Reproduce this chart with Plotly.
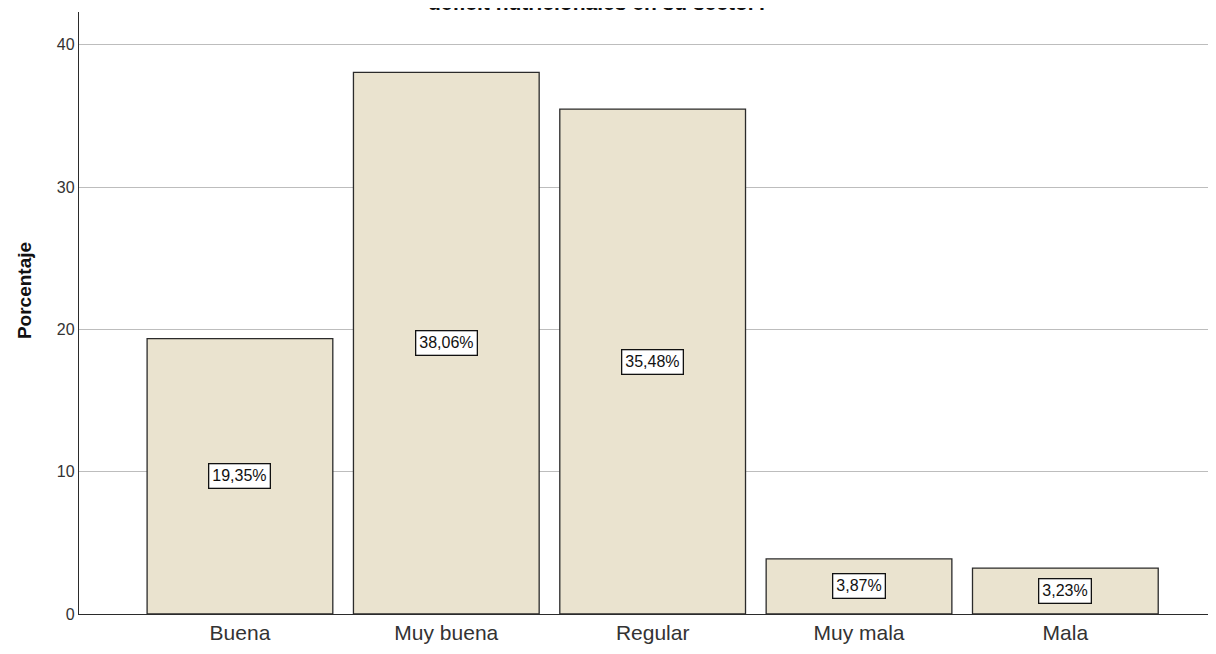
import plotly.graph_objects as go

categories = ["Buena", "Muy buena", "Regular", "Muy mala", "Mala"]
values = [19.35, 38.06, 35.48, 3.87, 3.23]
labels = ["19,35%", "38,06%", "35,48%", "3,87%", "3,23%"]
y_ticks = [0, 10, 20, 30, 40]

x_idx = list(range(len(categories)))
FONT = "Arial, Liberation Sans, sans-serif"

fig = go.Figure()
fig.add_trace(go.Bar(
    x=x_idx, y=values, width=0.9,
    marker=dict(color="#EAE3CF", line=dict(color="#2b2b2b", width=1.3)),
    hoverinfo="skip",
))

for i, (v, lab) in enumerate(zip(values, labels)):
    fig.add_annotation(
        x=i, y=v / 2, xref="x", yref="y", text=lab, showarrow=False,
        font=dict(family=FONT, size=16, color="#111"),
        bgcolor="white", bordercolor="#111", borderwidth=1.3, borderpad=3,
    )

# Title (top line(s) cut off at the page edge, as in the reference)
fig.add_annotation(
    x=0.4565, y=1.0166, xref="paper", yref="paper",
    text="<b>déficit nutricionales en su sector?</b>", showarrow=False,
    font=dict(family=FONT, size=21, color="#111"),
    xanchor="center", yanchor="middle",
)

# Y axis title
fig.add_annotation(
    x=-0.0484, y=0.538, xref="paper", yref="paper",
    text="<b>Porcentaje</b>", showarrow=False, textangle=-90,
    font=dict(family=FONT, size=19, color="#111"),
    xanchor="center", yanchor="middle",
)

fig.update_layout(
    width=1216, height=654,
    margin=dict(l=71, r=8, t=4, b=48),
    paper_bgcolor="white", plot_bgcolor="white",
    showlegend=False,
    xaxis=dict(
        range=[-0.78, 4.73], tickmode="array", tickvals=x_idx, ticktext=categories,
        showgrid=False, zeroline=False, showline=True, linecolor="#2b2b2b", linewidth=1.3,
        ticks="", tickfont=dict(family=FONT, size=21, color="#333"),
        fixedrange=True,
    ),
    yaxis=dict(
        range=[0, 42.3], tickmode="array", tickvals=y_ticks,
        showgrid=True, gridcolor="#BDBDBD", gridwidth=1, zeroline=False,
        showline=True, linecolor="#2b2b2b", linewidth=1.3,
        ticks="", tickfont=dict(family=FONT, size=16, color="#333"),
        fixedrange=True,
    ),
    bargap=0.1,
)

fig.write_html("out.html", config={"displayModeBar": False})
